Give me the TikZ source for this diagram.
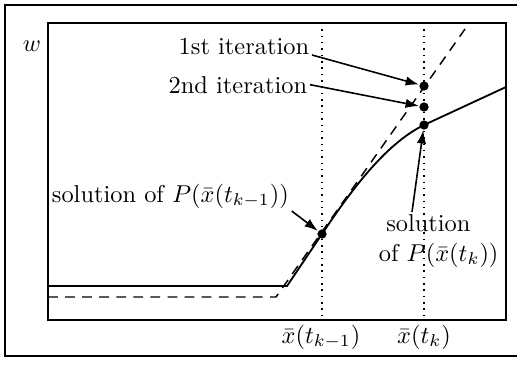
\documentclass[tikz,border=0pt]{standalone}
\usetikzlibrary{arrows.meta,positioning,calc}

\begin{document}
\begin{tikzpicture}[
            x=0.0144cm, y=-0.0144cm,
            frame/.style={
                    line width=1.2pt
                },
            plotbox/.style={
                    draw=black,
                    line width=0.5pt
                },
            level/.style={
                    dotted,
                    line width=0.6pt
                },
            solutionpath/.style={
                    line width=0.75pt
                },
            predictor/.style={
                    dash pattern=on 4pt off 3pt,
                    line width=0.6pt
                },
            dot/.style={
                    circle,
                    fill=black,
                    inner sep=0pt,
                    minimum size=3.8pt
                },
            tag/.style={
                    inner sep=1pt
                },
            arrow/.style={
            -{Latex[length=5.5pt,width=3.8pt]},
            line width=0.65pt
            }
            ]

            \useasboundingbox (0,0) rectangle (517,365);

            % Marco exterior
            \draw[frame] (519,5) -| (5,356) -- (519,356);

            % Ejes y referencias
            \draw[plotbox] (48,23) rectangle (506,320);
            \draw[level] (322,23) -- (322,320);
            \draw[level] (424,23) -- (424,320);

            % Puntos
            \node[dot] (iterA) at (424,86) {};
            \node[dot] (iterB) at (424,107) {};
            \node[dot] (solNow) at (424,125) {};
            \node[dot] (solPrev) at (322,234) {};

            % Curvas
            \draw[predictor] (48,297) -- (276,297) -- (465,29);
            \draw[solutionpath] (48,286) -- (287,286) -- (solPrev.center)
            .. controls (350,192) and (385,144) .. (solNow.center)
            -- (506,87);

            % Textos
            \node[tag, anchor=base] (wlabel) at (32,52) {$w$};
            \node[tag, anchor=base] (tickPrev) at (321,343)
            {$\bar{x}(t_{k-1})$};
            \node[tag, anchor=base] (tickNow) at (424,343)
            {$\bar{x}(t_k)$};
            \node[tag, anchor=base east] (iterAtext) at (312,55)
            {1st iteration};
            \node[tag, anchor=base east] (iterBtext) at (310,93)
            {2nd iteration};
            \node[tag, anchor=base west] (solPrevtext) at (49,202)
            {solution of $P(\bar{x}(t_{k-1}))$};
            \node[tag, anchor=north west, align=left] (solNowtext) at (376,212)
            {\hspace*{3pt}solution\\ of $P(\bar{x}(t_k))$};

            % Flechas
            \draw[arrow] (iterAtext.base east) -- (iterA);
            \draw[arrow] (iterBtext.east) -- (iterB);
            \draw[arrow] (solPrevtext.south east) -- (solPrev);
            \draw[arrow] ($(solNowtext.north west)+(36,0)$) -- (solNow);

        \end{tikzpicture}
\end{document}
